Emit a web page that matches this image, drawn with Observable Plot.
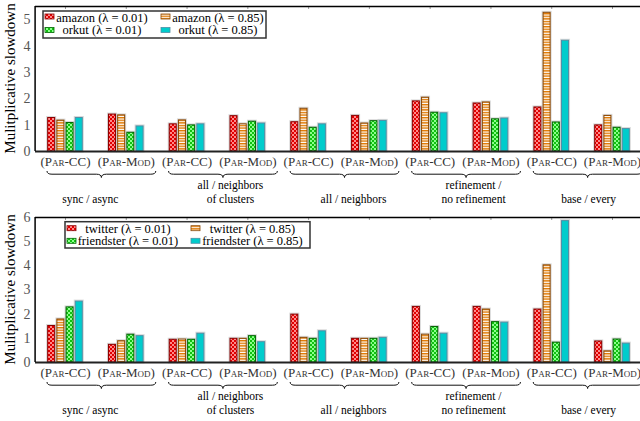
<!DOCTYPE html>
<html><head><meta charset="utf-8">
<script src="https://cdn.jsdelivr.net/npm/d3@7"></script>
<script src="https://cdn.jsdelivr.net/npm/@observablehq/plot@0.6"></script>
<style>
body{margin:0;background:#fff;}
#wrap{width:640px;overflow:hidden;}
#wrap svg{display:block;}
</style></head><body>
<svg width="0" height="0" style="position:absolute">
<defs>
 <pattern id="pRed" width="4" height="4" patternUnits="userSpaceOnUse">
   <rect width="4" height="4" fill="#ff8a8a"/><rect width="2" height="2" fill="#e00000"/><rect x="2" y="2" width="2" height="2" fill="#e00000"/>
 </pattern>
 <pattern id="pOrange" width="4" height="2.6" patternUnits="userSpaceOnUse">
   <rect width="4" height="2.6" fill="#ffffff"/><rect width="4" height="1.4" fill="#e07800"/>
 </pattern>
 <pattern id="pGreen" width="4" height="4" patternUnits="userSpaceOnUse">
   <rect width="4" height="4" fill="#8cff8c"/><rect width="2" height="2" fill="#10c010"/><rect x="2" y="2" width="2" height="2" fill="#10c010"/>
 </pattern>
</defs></svg>
<div id="wrap"></div>
<script>
// ---- data ----
const categories = ["(Par-CC)","(Par-Mod)","(Par-CC)","(Par-Mod)","(Par-CC)","(Par-Mod)","(Par-CC)","(Par-Mod)","(Par-CC)","(Par-Mod)"];
const groupLabels = ["sync / async","all / neighbors\nof clusters","all / neighbors","refinement /\nno refinement","base / every"];
const yTicksTop = [0,1,2,3,4,5];
const yTicksBottom = [0,1,2,3,4,5,6];
const topNames = ["amazon","amazon","orkut","orkut"];
const bottomNames = ["twitter","twitter","friendster","friendster"];
const lambdas = ["0.01","0.85","0.01","0.85"];

const amazon001 = [1.27,1.40,1.03,1.34,1.11,1.35,1.90,1.82,1.67,0.99];
const amazon085 = [1.17,1.37,1.18,1.03,1.62,1.06,2.04,1.86,5.26,1.35];
const orkut001  = [1.08,0.71,0.99,1.13,0.90,1.15,1.47,1.22,1.10,0.90];
const orkut085  = [1.27,0.95,1.03,1.06,1.03,1.16,1.45,1.25,4.20,0.85];

const twitter001    = [1.51,0.73,0.94,0.98,1.98,0.98,2.30,2.30,2.19,0.87];
const twitter085    = [1.78,0.88,0.95,0.98,1.02,0.98,1.15,2.19,4.02,0.46];
const friendster001 = [2.28,1.15,0.94,1.09,0.98,0.98,1.47,1.67,0.82,0.95];
const friendster085 = [2.52,1.09,1.19,0.84,1.29,1.02,1.19,1.65,5.85,0.78];

// ---- styles ----
const fills = ["url(#pRed)","url(#pOrange)","url(#pGreen)","#00cccc"];
const strokes = ["#8a0000","#8a4600","#006400","#4f8fa6"];
const FONT = "'Liberation Serif', 'Times New Roman', serif";
const labelShift = [-5.5, 13, 14.5, 13, 6.5]; // px

function panel({series, names, ymax, yticks, height, marginTop, legend}) {
  const marginBottom = 59, marginLeft = 35;
  const plotH = height - marginTop - marginBottom;
  const unit = (642.4 - 34.6) / 10;
  const pitch = 9.2 / unit, bw = 7 / unit;
  const marks = [];
  series.forEach((vals, k) => {
    const data = vals.map((v, i) => ({i, v}));
    const x1 = d => d.i + (k - 1.5) * pitch - bw / 2;
    const x2 = d => d.i + (k - 1.5) * pitch + bw / 2;
    marks.push(Plot.rect(data, {x1, x2, y1: 0, y2: "v", fill: "none", stroke: "#b8b8b8", strokeWidth: 3, strokeOpacity: 0.55}));
    marks.push(Plot.rect(data, {x1, x2, y1: 0, y2: "v", fill: fills[k], stroke: strokes[k], strokeWidth: 1}));
  });
  marks.push(Plot.tickX(d3.range(10), {x: d => d, insetBottom: plotH - 3, stroke: "#999"}));
  marks.push(Plot.tickX(d3.range(10), {x: d => d, insetTop: plotH - 3, stroke: "#999"}));
  marks.push(Plot.ruleY([0], {stroke: "#222", strokeWidth: 1.8}));
  marks.push(Plot.ruleY([ymax], {stroke: "#000", strokeWidth: 1.5}));
  marks.push(Plot.ruleX([-0.5], {stroke: "#000", strokeWidth: 1.5}));
  marks.push(Plot.axisY(yticks, {tickSize: 0, tickPadding: 5, fontSize: 14, color: "#555", label: null, fontVariant: "normal"}));
  marks.push(Plot.axisX(d3.range(10), {tickFormat: i => categories[i], tickSize: 0, tickPadding: 5, fontSize: 13, color: "#333", label: null, fontVariant: "small-caps"}));
  marks.push(Plot.text(groupLabels, {x: (d, g) => 2 * g + 0.5 + labelShift[g] / unit, frameAnchor: "bottom", dy: 51, lineAnchor: "bottom", lineHeight: 1.15, fontSize: 11.5, fill: "#000", text: d => d}));

  const chart = Plot.plot({
    width: 640, height, marginTop, marginBottom, marginLeft, marginRight: 0,
    x: {type: "linear", domain: [-0.5, 9.5], range: [34.6, 642.4], axis: null},
    y: {domain: [0, ymax], axis: null},
    style: {fontFamily: FONT, background: "white", overflow: "visible"},
    marks
  });

  const svg = d3.select(chart);
  const sx = chart.scale("x");
  const base = height - marginBottom;
  // braces
  for (let g = 0; g < 5; g++) {
    const L = sx.apply(2 * g) - 18, R = sx.apply(2 * g + 1) + 30, T = (L + R) / 2;
    const y0 = base + 20, y1 = base + 23.2, y2 = base + 26.5, r = 5;
    svg.append("path")
      .attr("d", `M${L},${y0} Q${L},${y1} ${L + r},${y1} L${T - r},${y1} Q${T},${y1} ${T},${y2} Q${T},${y1} ${T + r},${y1} L${R - r},${y1} Q${R},${y1} ${R},${y0}`)
      .attr("fill", "none").attr("stroke", "#111").attr("stroke-width", 1);
  }
  // y title
  svg.append("text")
    .attr("transform", `translate(12,${(marginTop + base) / 2}) rotate(-90)`)
    .attr("text-anchor", "middle").attr("dominant-baseline", "middle")
    .style("font-family", FONT).attr("font-size", 15).attr("fill", "#000")
    .text("Mulitplicative slowdown");
  // legend
  const lg = svg.append("g").style("font-family", FONT).attr("font-size", 12.5);
  lg.append("rect").attr("x", legend.x).attr("y", legend.y).attr("width", legend.w).attr("height", legend.h)
    .attr("fill", "#fff").attr("stroke", "#333").attr("stroke-width", 1.5);
  for (let k = 0; k < 4; k++) {
    const col = k % 2, row = Math.floor(k / 2);
    lg.append("rect").attr("x", legend.sw[col]).attr("y", legend.sy[row]).attr("width", 9).attr("height", 5)
      .attr("fill", fills[k]).attr("stroke", strokes[k]).attr("stroke-width", 0.8);
    lg.append("text").attr("x", legend.tc[col]).attr("y", legend.ty[row]).attr("text-anchor", "middle").attr("fill", "#000")
      .text(`${names[k]} (λ = ${lambdas[k]})`);
  }
  return chart;
}

const wrap = document.getElementById("wrap");
wrap.append(panel({
  series: [amazon001, amazon085, orkut001, orkut085], names: topNames,
  ymax: 5.5, yticks: yTicksTop, height: 210, marginTop: 6,
  legend: {x: 43, y: 11, w: 223, h: 27, sw: [45, 161], sy: [14, 27.5], tc: [102, 218], ty: [21.5, 34]}
}));
wrap.append(panel({
  series: [twitter001, twitter085, friendster001, friendster085], names: bottomNames,
  ymax: 6, yticks: yTicksBottom, height: 211, marginTop: 7,
  legend: {x: 65, y: 11.7, w: 245, h: 26.3, sw: [67, 191], sy: [15.7, 28.3], tc: [128, 252.5], ty: [22.5, 35]}
}));
</script>
</body></html>
